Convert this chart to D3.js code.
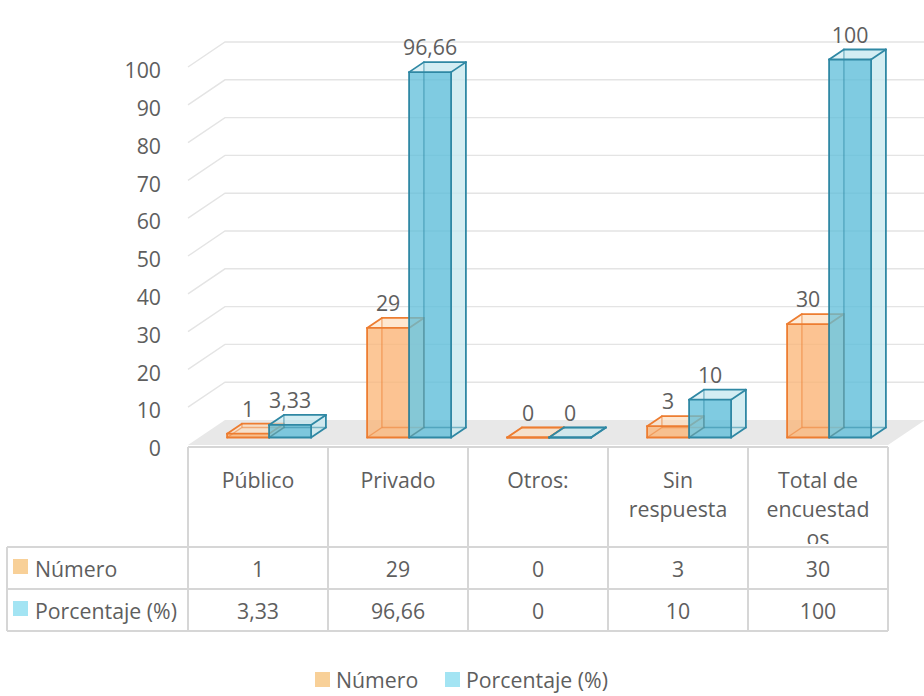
<!DOCTYPE html>
<html>
<head>
<meta charset="utf-8">
<script src="https://cdn.jsdelivr.net/npm/d3@7"></script>
<style>
  html, body { margin: 0; padding: 0; background: #ffffff; }
  svg { display: block; font-family: "Open Sans", "Noto Sans", sans-serif; }
</style>
</head>
<body>
<svg id="chart" width="924" height="696"></svg>
<script>
// ---------- data ----------
const categories = ["Público", "Privado", "Otros:", "Sin respuesta", "Total de encuestados"];
const categoryLines = [["Público"], ["Privado"], ["Otros:"], ["Sin", "respuesta"], ["Total de", "encuestad", "os"]];
const seriesNames = ["Número", "Porcentaje (%)"];
const numeroValues = [1, 29, 0, 3, 30];
const porcentajeValues = [3.33, 96.66, 0, 10, 100];
const yTicks = [0, 10, 20, 30, 40, 50, 60, 70, 80, 90, 100];

// ---------- styles ----------
const seriesFill = ["#FBB476", "#5EBED9"];
const seriesLight = ["#FDE3C8", "#D3ECF2"];
const seriesStroke = ["#ED7D31", "#2F88A4"];
const legendFill = ["#F8D098", "#A3E4F3"];
const textColor = "#5E5E5E";
const fontSize = 21.3;

const svg = d3.select("#chart");
const fmt = d3.formatLocale({decimal: ",", thousands: ".", grouping: [3], currency: ["", ""]}).format("~g");

// ---------- scales ----------
const plotLeft = 188, plotRight = 888;
const x = d3.scaleBand().domain(categories).range([plotLeft, plotRight]).paddingInner(0).paddingOuter(0);
const xSub = d3.scaleBand().domain(seriesNames).range([0, x.bandwidth()]).paddingInner(0).paddingOuter(2 / 3);
const y = d3.scaleLinear().domain([0, 100]).range([445, 67]);
const DX = 37, DY = 25;   // depth offset of the 3D box
const Z0 = 0.3, Z1 = 0.7; // bar depth range
const proj = (px, v, z) => [px + z * DX, y(v) - z * DY];

// ---------- walls / floor ----------
const gridG = svg.append("g");
yTicks.filter(v => v > 0).forEach(v => {
  const a = proj(plotLeft, v, 0), b = proj(plotLeft, v, 1), c = proj(plotRight, v, 1);
  gridG.append("polyline")
    .attr("points", [a, b, c].map(p => p.join(",")).join(" "))
    .attr("fill", "none").attr("stroke", "#E4E4E4").attr("stroke-width", 1.4);
});
const floorPts = [proj(plotLeft, 0, 0), proj(plotRight, 0, 0), proj(plotRight, 0, 1), proj(plotLeft, 0, 1)];
svg.append("polygon").attr("points", floorPts.map(p => p.join(",")).join(" ")).attr("fill", "#E8E8E8");

// ---------- y axis labels ----------
const yAxis = d3.axisLeft(y).tickValues(yTicks).tickSize(0).tickPadding(0).tickFormat(d3.format("d"));
const axG = svg.append("g").attr("transform", "translate(161,0)").call(yAxis);
axG.select(".domain").remove();
axG.selectAll("text").attr("font-size", fontSize).attr("fill", textColor)
  .attr("font-family", "Open Sans, sans-serif").attr("dy", "0.36em").attr("y", 3);

// ---------- bars ----------
const seriesData = [numeroValues, porcentajeValues];
const barsG = svg.append("g");
const polyStr = pts => pts.map(p => p.join(",")).join(" ");
categories.forEach((cat, ci) => {
  seriesNames.forEach((s, si) => {
    const v = seriesData[si][ci];
    const x0 = x(cat) + xSub(s), x1 = x0 + xSub.bandwidth();
    const A = proj(x0, 0, Z0), B = proj(x1, 0, Z0), C = proj(x1, v, Z0), D = proj(x0, v, Z0);
    const A2 = proj(x0, 0, Z1), B2 = proj(x1, 0, Z1), C2 = proj(x1, v, Z1), D2 = proj(x0, v, Z1);
    const g = barsG.append("g");
    const faces = [
      {pts: [A2, B2, C2, D2], fill: seriesFill[si], op: 0.28},
      {pts: [A, A2, D2, D], fill: seriesFill[si], op: 0.12},
      {pts: [A, B, B2, A2], fill: seriesFill[si], op: 0.2},
      {pts: [B, B2, C2, C], fill: seriesLight[si], op: 0.75},
      {pts: [D, C, C2, D2], fill: seriesLight[si], op: 0.55},
      {pts: [A, B, C, D], fill: seriesFill[si], op: 0.72}
    ];
    faces.forEach(f => g.append("polygon").attr("points", polyStr(f.pts))
      .attr("fill", f.fill).attr("fill-opacity", f.op).attr("stroke", "none"));
    const hidden = [[A2, B2], [A2, D2], [A, A2]];
    hidden.forEach(e => g.append("line").attr("x1", e[0][0]).attr("y1", e[0][1]).attr("x2", e[1][0]).attr("y2", e[1][1])
      .attr("stroke", seriesStroke[si]).attr("stroke-width", 1.4).attr("stroke-opacity", 0.55));
    const visible = [[A, B], [B, C], [C, D], [D, A], [B, B2], [B2, C2], [C, C2], [D, D2], [D2, C2]];
    visible.forEach(e => g.append("line").attr("x1", e[0][0]).attr("y1", e[0][1]).attr("x2", e[1][0]).attr("y2", e[1][1])
      .attr("stroke", seriesStroke[si]).attr("stroke-width", 1.8).attr("stroke-linecap", "round"));
    // data label
    svg.append("text")
      .attr("x", (A[0] + B[0]) / 2)
      .attr("y", D2[1] - 7)
      .attr("text-anchor", "middle")
      .attr("font-size", fontSize).attr("fill", textColor)
      .text(fmt(v));
  });
});

// ---------- data table ----------
const tableG = svg.append("g");
const headTop = 447, headBottom = 547, row1Bottom = 589, row2Bottom = 631, tableLeft = 7;
const lineColor = "#D6D6D6";

// header labels (clipped to the header cell)
svg.append("defs").append("clipPath").attr("id", "headClip")
  .append("rect").attr("x", plotLeft).attr("y", headTop).attr("width", plotRight - plotLeft).attr("height", 97);
const headG = svg.append("g").attr("clip-path", "url(#headClip)");
categories.forEach((c, ci) => {
  const t = headG.append("text")
    .attr("text-anchor", "middle")
    .attr("font-size", fontSize).attr("fill", textColor);
  categoryLines[ci].forEach((ln, li) => {
    t.append("tspan").attr("x", x(c) + x.bandwidth() / 2).attr("y", 480 + li * 29).attr("dy", "0.36em").text(ln);
  });
});

const hLine = (x1, x2, yy) => tableG.append("line").attr("x1", x1).attr("x2", x2).attr("y1", yy).attr("y2", yy)
  .attr("stroke", lineColor).attr("stroke-width", 2);
const vLine = (xx, y1, y2) => tableG.append("line").attr("x1", xx).attr("x2", xx).attr("y1", y1).attr("y2", y2)
  .attr("stroke", lineColor).attr("stroke-width", 2);
hLine(plotLeft, plotRight, headTop);
hLine(tableLeft, plotRight, headBottom);
hLine(tableLeft, plotRight, row1Bottom);
hLine(tableLeft, plotRight, row2Bottom);
vLine(tableLeft, headBottom, row2Bottom);
categories.forEach(c => vLine(x(c), headTop, row2Bottom));
vLine(plotRight, headTop, row2Bottom);

// row labels + values
const rowCenters = [(headBottom + row1Bottom) / 2 + 1, (row1Bottom + row2Bottom) / 2 + 1];
seriesNames.forEach((s, si) => {
  const cy = rowCenters[si];
  tableG.append("rect").attr("x", 13).attr("y", cy - 10).attr("width", 15).attr("height", 15)
    .attr("fill", legendFill[si]);
  tableG.append("text").attr("x", 35).attr("y", cy).attr("dy", "0.36em")
    .attr("font-size", fontSize).attr("fill", textColor).text(s);
  categories.forEach((c, ci) => {
    tableG.append("text").attr("x", x(c) + x.bandwidth() / 2).attr("y", cy).attr("dy", "0.36em")
      .attr("text-anchor", "middle").attr("font-size", fontSize).attr("fill", textColor)
      .text(fmt(seriesData[si][ci]));
  });
});

// ---------- legend ----------
const legendG = svg.append("g");
const legendX = [315, 445];
seriesNames.forEach((s, si) => {
  legendG.append("rect").attr("x", legendX[si]).attr("y", 672).attr("width", 15).attr("height", 15)
    .attr("fill", legendFill[si]);
  legendG.append("text").attr("x", legendX[si] + 21).attr("y", 680).attr("dy", "0.36em")
    .attr("font-size", fontSize).attr("fill", textColor).text(s);
});
</script>
</body>
</html>
